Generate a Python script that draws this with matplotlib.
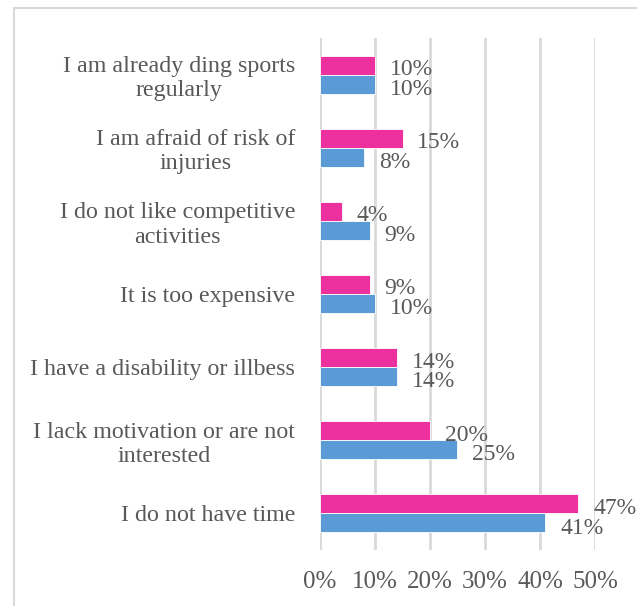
import numpy as np
import matplotlib.pyplot as plt
from matplotlib.patches import Rectangle

# categories from bottom to top
categories = [
    "I do not have time",
    "I lack motivation or are not\ninterested",
    "I have a disability or illbess",
    "It is too expensive",
    "I do not like competitive\nactivities",
    "I am afraid of risk of\ninjuries",
    "I am already ding sports\nregularly",
]
pink_values = [0.47, 0.20, 0.14, 0.09, 0.04, 0.15, 0.10]
blue_values = [0.41, 0.25, 0.14, 0.10, 0.09, 0.08, 0.10]
x_ticks = [0.0, 0.1, 0.2, 0.3, 0.4, 0.5]

pink = '#EC309E'
blue = '#5B9BD5'
text_grey = '#595959'
grid_grey = '#D9D9D9'

plt.rcParams['font.family'] = ['Liberation Serif', 'DejaVu Serif']

fig = plt.figure(figsize=(6.37, 6.06), dpi=100)
ax = fig.add_axes([0.5024, 0.0924, 0.4316, 0.8449])

y = np.arange(len(categories))
h = 0.26
ax.barh(y + h / 2, pink_values, height=h, color=pink, edgecolor='white', linewidth=0.6, zorder=3)
ax.barh(y - h / 2, blue_values, height=h, color=blue, edgecolor='white', linewidth=0.6, zorder=3)

# value labels, placed like Excel's "outside end" labels
val_fs = 17
for i in range(len(categories)):
    ax.text(pink_values[i] + 0.027, y[i] + h / 2 - 0.06, '%d%%' % round(pink_values[i] * 100),
            va='center', ha='left', fontsize=val_fs, color=text_grey, zorder=4, clip_on=False)
    ax.text(blue_values[i] + 0.027, y[i] - h / 2 - 0.07, '%d%%' % round(blue_values[i] * 100),
            va='center', ha='left', fontsize=val_fs, color=text_grey, zorder=4, clip_on=False)

ax.set_xlim(0, 0.5)
ax.set_ylim(-0.5, len(categories) - 0.5)
ax.set_xticks(x_ticks)
ax.set_xticklabels(['%d%%' % round(t * 100) for t in x_ticks])
ax.set_yticks(y)
ax.set_yticklabels(categories, multialignment='center', linespacing=1.2)
ax.tick_params(axis='x', length=0, pad=15, labelsize=18, labelcolor=text_grey)
ax.tick_params(axis='y', length=0, pad=18, labelsize=17.3, labelcolor=text_grey)
ax.xaxis.grid(True, color=grid_grey, linewidth=2, zorder=0)
ax.set_axisbelow(True)
for s in ax.spines.values():
    s.set_visible(False)

# outer frame, cut off on right and bottom
fig.patches.append(Rectangle((14 / 637, -0.02), 1.0, 0.987 + 0.02, transform=fig.transFigure,
                             fill=False, edgecolor=grid_grey, linewidth=1.5))

plt.savefig('out.png', dpi=100)
